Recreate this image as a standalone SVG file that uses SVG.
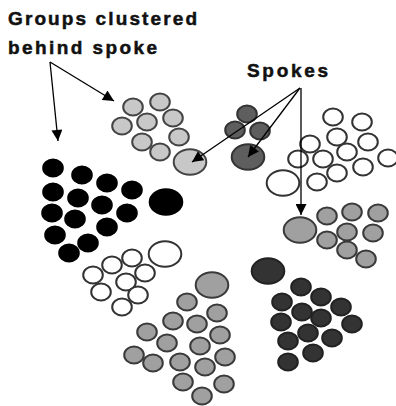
<svg xmlns="http://www.w3.org/2000/svg" width="396" height="406" viewBox="0 0 396 406">
<style>
text{font-family:"Liberation Sans",Arial,sans-serif;font-weight:bold;font-size:19px;fill:#111;stroke:#111;stroke-width:0.5}
ellipse{stroke-width:2}
.s{rx:9.8px;ry:8.4px}
.b{rx:16.3px;ry:12.8px}
.lg{fill:#c8c8c8;stroke:#444}
.g{fill:#a0a0a0;stroke:#3a3a3a}
.dg{fill:#5e5e5e;stroke:#333}
.dk{fill:#333;stroke:#222}
.bk{fill:#000;stroke:#000}
.w{fill:#fff;stroke:#333}
.c line{stroke:#000;stroke-width:1.3}
</style>
<defs>
<marker id="ah" viewBox="0 0 10 10" refX="10" refY="5" markerWidth="15" markerHeight="11" markerUnits="userSpaceOnUse" orient="auto">
<path d="M0,0 L10,5 L0,10 z" fill="#000"/>
</marker>
</defs>
<rect width="396" height="406" fill="#fff"/>
<text x="8" y="25" textLength="189" lengthAdjust="spacing">Groups clustered</text>
<text x="8" y="54" textLength="149" lengthAdjust="spacing">behind spoke</text>
<text x="247" y="77" textLength="81" lengthAdjust="spacing">Spokes</text>

<g id="light-cluster">
<ellipse class="s lg" cx="133" cy="107"/>
<ellipse class="s lg" cx="160" cy="102"/>
<ellipse class="s lg" cx="122" cy="126"/>
<ellipse class="s lg" cx="147" cy="122"/>
<ellipse class="s lg" cx="173" cy="118"/>
<ellipse class="s lg" cx="142" cy="142"/>
<ellipse class="s lg" cx="179" cy="137"/>
<ellipse class="s lg" cx="160" cy="152"/>
<ellipse class="b lg" cx="190" cy="162"/>
</g>
<g id="darkgray-cluster">
<ellipse class="s dg" cx="247" cy="114"/>
<ellipse class="s dg" cx="235" cy="130"/>
<ellipse class="s dg" cx="260" cy="131"/>
<ellipse class="b dg" cx="248" cy="157"/>
</g>
<g id="white-top-cluster">
<ellipse class="s w" cx="333" cy="117"/>
<ellipse class="s w" cx="362" cy="122"/>
<ellipse class="s w" cx="310" cy="144"/>
<ellipse class="s w" cx="337" cy="137"/>
<ellipse class="s w" cx="368" cy="142"/>
<ellipse class="s w" cx="298" cy="159"/>
<ellipse class="s w" cx="323" cy="159"/>
<ellipse class="s w" cx="347" cy="152"/>
<ellipse class="s w" cx="388" cy="158"/>
<ellipse class="s w" cx="337" cy="173"/>
<ellipse class="s w" cx="363" cy="167"/>
<ellipse class="s w" cx="317" cy="182"/>
<ellipse class="b w" cx="283" cy="183"/>
</g>
<g id="gray-right-cluster">
<ellipse class="s g" cx="327" cy="216"/>
<ellipse class="s g" cx="352" cy="212"/>
<ellipse class="s g" cx="378" cy="213"/>
<ellipse class="s g" cx="347" cy="232"/>
<ellipse class="s g" cx="373" cy="233"/>
<ellipse class="s g" cx="327" cy="240"/>
<ellipse class="s g" cx="347" cy="250"/>
<ellipse class="s g" cx="366" cy="259"/>
<ellipse class="b g" cx="300" cy="230"/>
</g>
<g id="black-cluster">
<ellipse class="s bk" cx="53" cy="168"/>
<ellipse class="s bk" cx="82" cy="175"/>
<ellipse class="s bk" cx="107" cy="183"/>
<ellipse class="s bk" cx="132" cy="190"/>
<ellipse class="s bk" cx="53" cy="192"/>
<ellipse class="s bk" cx="78" cy="198"/>
<ellipse class="s bk" cx="102" cy="205"/>
<ellipse class="s bk" cx="127" cy="213"/>
<ellipse class="s bk" cx="52" cy="213"/>
<ellipse class="s bk" cx="75" cy="219"/>
<ellipse class="s bk" cx="107" cy="227"/>
<ellipse class="s bk" cx="55" cy="235"/>
<ellipse class="s bk" cx="88" cy="243"/>
<ellipse class="s bk" cx="69" cy="253"/>
<ellipse class="b bk" cx="166" cy="202"/>
</g>
<g id="white-left-cluster">
<ellipse class="s w" cx="132" cy="258"/>
<ellipse class="s w" cx="112" cy="265"/>
<ellipse class="s w" cx="145" cy="273"/>
<ellipse class="s w" cx="93" cy="275"/>
<ellipse class="s w" cx="126" cy="282"/>
<ellipse class="s w" cx="101" cy="292"/>
<ellipse class="s w" cx="138" cy="295"/>
<ellipse class="s w" cx="122" cy="307"/>
<ellipse class="b w" cx="165" cy="254"/>
</g>
<g id="gray-bottom-cluster">
<ellipse class="s g" cx="187" cy="302"/>
<ellipse class="s g" cx="217" cy="313"/>
<ellipse class="s g" cx="173" cy="321"/>
<ellipse class="s g" cx="197" cy="324"/>
<ellipse class="s g" cx="220" cy="335"/>
<ellipse class="s g" cx="147" cy="332"/>
<ellipse class="s g" cx="167" cy="343"/>
<ellipse class="s g" cx="200" cy="346"/>
<ellipse class="s g" cx="225" cy="357"/>
<ellipse class="s g" cx="134" cy="355"/>
<ellipse class="s g" cx="153" cy="363"/>
<ellipse class="s g" cx="180" cy="362"/>
<ellipse class="s g" cx="205" cy="367"/>
<ellipse class="s g" cx="183" cy="382"/>
<ellipse class="s g" cx="224" cy="384"/>
<ellipse class="s g" cx="202" cy="396"/>
<ellipse class="b g" cx="212" cy="285"/>
</g>
<g id="dark-cluster">
<ellipse class="s dk" cx="301" cy="287"/>
<ellipse class="s dk" cx="321" cy="297"/>
<ellipse class="s dk" cx="282" cy="302"/>
<ellipse class="s dk" cx="302" cy="312"/>
<ellipse class="s dk" cx="341" cy="307"/>
<ellipse class="s dk" cx="321" cy="318"/>
<ellipse class="s dk" cx="281" cy="322"/>
<ellipse class="s dk" cx="352" cy="324"/>
<ellipse class="s dk" cx="308" cy="333"/>
<ellipse class="s dk" cx="332" cy="338"/>
<ellipse class="s dk" cx="288" cy="341"/>
<ellipse class="s dk" cx="313" cy="353"/>
<ellipse class="s dk" cx="288" cy="362"/>
<ellipse class="b dk" cx="268" cy="271"/>
</g>
<g id="connectors" class="c">
<line x1="50" y1="62" x2="58" y2="141" marker-end="url(#ah)"/>
<line x1="50" y1="62" x2="114" y2="101" marker-end="url(#ah)"/>
<line x1="300" y1="88" x2="192" y2="162" marker-end="url(#ah)"/>
<line x1="300" y1="88" x2="248" y2="157" marker-end="url(#ah)"/>
<line x1="301" y1="88" x2="301" y2="215" marker-end="url(#ah)"/>
</g>
</svg>
